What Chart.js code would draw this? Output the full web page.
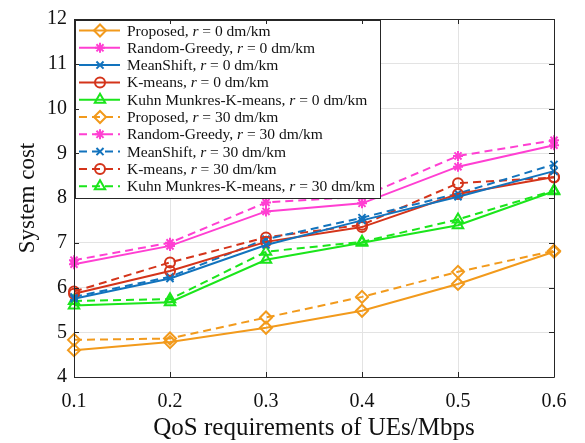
<!DOCTYPE html>
<html>
<head>
<meta charset="utf-8">
<script src="https://cdn.jsdelivr.net/npm/chart.js@4/dist/chart.umd.min.js"></script>
<style>
  html, body { margin: 0; padding: 0; background: #fff; }
  #wrap { width: 585px; height: 443px; }
</style>
</head>
<body>
<div id="wrap"><canvas id="costChart" width="585" height="443"></canvas></div>
<script>
const qosLabels = ['0.1', '0.2', '0.3', '0.4', '0.5', '0.6'];
const methods = ['Proposed', 'Random-Greedy', 'MeanShift', 'K-means', 'Kuhn Munkres-K-means'];
const speeds = [0, 30];

// r = 0 dm/km
const proposed0 = [4.6, 4.78, 5.1, 5.48, 6.08, 6.8];
const randomGreedy0 = [6.52, 6.93, 7.7, 7.88, 8.7, 9.18];
const meanShift0 = [5.75, 6.2, 6.95, 7.5, 8.03, 8.6];
const kMeans0 = [5.86, 6.37, 7.02, 7.35, 8.09, 8.47];
const kuhnMunkres0 = [5.6, 5.67, 6.62, 7.0, 7.39, 8.15];

// r = 30 dm/km
const proposed30 = [4.83, 4.86, 5.33, 5.79, 6.35, 6.82];
const randomGreedy30 = [6.61, 7.0, 7.9, 8.03, 8.94, 9.29];
const meanShift30 = [5.79, 6.24, 7.08, 7.56, 8.1, 8.75];
const kMeans30 = [5.91, 6.56, 7.12, 7.4, 8.33, 8.46];
const kuhnMunkres30 = [5.7, 5.74, 6.8, 7.02, 7.52, 8.17];

const seriesData = [
  [proposed0, randomGreedy0, meanShift0, kMeans0, kuhnMunkres0],
  [proposed30, randomGreedy30, meanShift30, kMeans30, kuhnMunkres30]
];

const colors = ['#F29A1C', '#FF3FD2', '#1273BD', '#D4341A', '#1BE51B'];
const markers = [
  { style: 'rectRot', radius: 6, fill: false },
  { style: 'star', radius: 5, fill: true },
  { style: 'crossRot', radius: 5, fill: false },
  { style: 'circle', radius: 5, fill: false },
  { style: 'triangle', radius: 6, fill: false }
];

const FONT = "'Liberation Serif', 'DejaVu Serif', serif";

function buildDatasets() {
  const out = [];
  speeds.forEach((r, si) => {
    methods.forEach((name, mi) => {
      const m = markers[mi];
      out.push({
        label: `${name}, r = ${r} dm/km`,
        methodName: name,
        speed: r,
        data: seriesData[si][mi],
        borderColor: colors[mi],
        backgroundColor: m.fill ? colors[mi] : 'rgba(0,0,0,0)',
        borderWidth: 2,
        borderDash: si === 1 ? [8, 5] : [],
        pointStyle: m.style,
        pointRadius: m.radius,
        pointBorderWidth: 2,
        pointBorderColor: colors[mi],
        pointBackgroundColor: m.fill ? colors[mi] : 'rgba(0,0,0,0)',
        tension: 0,
        fill: false
      });
    });
  });
  return out;
}

// box around the axes with inward tick marks on all four sides
const axesFrame = {
  id: 'axesFrame',
  afterDraw(chart) {
    const { ctx, chartArea: a, scales } = chart;
    ctx.save();
    ctx.strokeStyle = '#262626';
    ctx.lineWidth = 1;
    ctx.beginPath();
    ctx.rect(a.left + 0.5, a.top + 0.5, a.right - a.left, a.bottom - a.top);
    ctx.stroke();
    const len = 5;
    ctx.beginPath();
    scales.x.ticks.forEach((t, i) => {
      const x = Math.round(scales.x.getPixelForTick(i)) + 0.5;
      ctx.moveTo(x, a.bottom); ctx.lineTo(x, a.bottom - len);
      ctx.moveTo(x, a.top); ctx.lineTo(x, a.top + len);
    });
    scales.y.ticks.forEach((t, i) => {
      const y = Math.round(scales.y.getPixelForTick(i)) + 0.5;
      ctx.moveTo(a.left, y); ctx.lineTo(a.left + len, y);
      ctx.moveTo(a.right, y); ctx.lineTo(a.right - len, y);
    });
    ctx.stroke();
    ctx.restore();
  }
};

// legend box in the upper-left corner of the plot
const insetLegend = {
  id: 'insetLegend',
  afterDatasetsDraw(chart) {
    const { ctx, chartArea: a } = chart;
    const sets = chart.data.datasets;
    const x0 = a.left + 1, y0 = a.top + 1;
    const rowH = 17.3, w = 305, h = 178;
    const size = 15.5;
    ctx.save();
    ctx.fillStyle = '#fff';
    ctx.fillRect(x0, y0, w, h);
    ctx.strokeStyle = '#262626';
    ctx.lineWidth = 1;
    ctx.strokeRect(x0 + 0.5, y0 + 0.5, w, h);

    sets.forEach((ds, i) => {
      const cy = y0 + 10.5 + i * rowH;
      ctx.strokeStyle = ds.borderColor;
      ctx.lineWidth = 2;
      ctx.setLineDash(ds.borderDash);
      ctx.beginPath();
      ctx.moveTo(x0 + 4, cy);
      ctx.lineTo(x0 + 45, cy);
      ctx.stroke();
      ctx.setLineDash([]);
      ctx.fillStyle = ds.pointBackgroundColor;
      ctx.strokeStyle = ds.pointBorderColor;
      ctx.lineWidth = 2;
      Chart.helpers.drawPoint(ctx, {
        pointStyle: ds.pointStyle,
        radius: ds.pointRadius,
        borderWidth: 2
      }, x0 + 25, cy);

      let tx = x0 + 52;
      ctx.fillStyle = '#111';
      ctx.textBaseline = 'middle';
      ctx.font = `${size}px ${FONT}`;
      const head = ds.methodName + ', ';
      ctx.fillText(head, tx, cy + 1);
      tx += ctx.measureText(head).width;
      ctx.font = `italic ${size}px ${FONT}`;
      ctx.fillText('r', tx, cy + 1);
      tx += ctx.measureText('r').width;
      ctx.font = `${size}px ${FONT}`;
      ctx.fillText(` = ${ds.speed} dm/km`, tx, cy + 1);
    });
    ctx.restore();
  }
};

function renderChart() {
  const ctx = document.getElementById('costChart');
  new Chart(ctx, {
    type: 'line',
    data: { labels: qosLabels, datasets: buildDatasets() },
    plugins: [axesFrame, insetLegend],
    options: {
      responsive: false,
      animation: false,
      events: [],
      layout: { padding: { left: 0, right: 31, top: 13, bottom: 0 } },
      plugins: { legend: { display: false }, tooltip: { enabled: false } },
      scales: {
        x: {
          offset: false,
          grid: { color: '#E3E3E3', drawTicks: false },
          border: { display: false },
          ticks: { color: '#111', font: { family: FONT, size: 20 }, padding: 13, maxRotation: 0 },
          title: {
            display: true,
            text: 'QoS requirements of UEs/Mbps',
            color: '#111',
            font: { family: FONT, size: 25 },
            padding: { top: 0, bottom: 0 }
          },
          afterFit(scale) { scale.height = 66; }
        },
        y: {
          min: 4,
          max: 12,
          ticks: { stepSize: 1, color: '#111', font: { family: FONT, size: 20 }, padding: 7 },
          grid: { color: '#E3E3E3', drawTicks: false },
          border: { display: false },
          title: {
            display: true,
            text: 'System cost',
            color: '#111',
            font: { family: FONT, size: 23 },
            padding: { top: 14, bottom: 0 }
          },
          afterFit(scale) { scale.width = 74; }
        }
      }
    }
  });
}

renderChart();
</script>
</body>
</html>
